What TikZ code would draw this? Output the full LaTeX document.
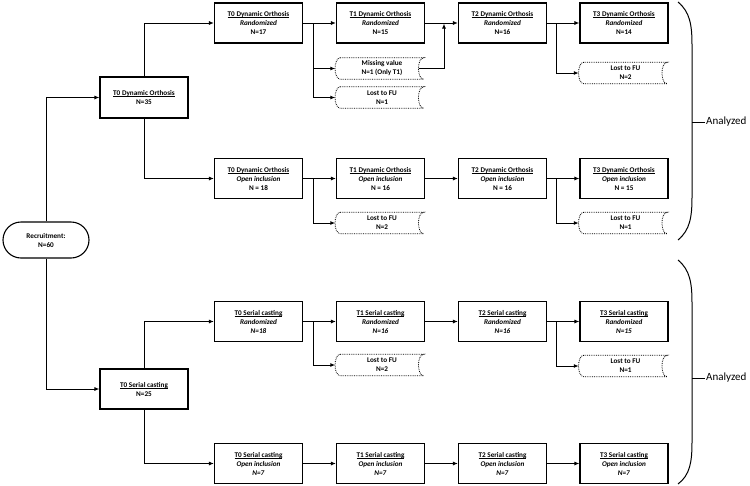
\documentclass[tikz,border=0pt]{standalone}
\usepackage{fontspec}
\setmainfont{Carlito}
\usetikzlibrary{arrows.meta,shapes.misc}
\newcommand\lostshape[1]{\draw[line width=0.8pt, densely dotted] (#1.north west) .. controls ([xshift=-7pt]#1.north west) and ([xshift=-7pt]#1.south west) .. (#1.south west) -- (#1.south east) .. controls ([xshift=-7pt]#1.south east) and ([xshift=-7pt]#1.north east) .. (#1.north east) -- cycle;}
\newcommand\uln[1]{\setbox0\hbox{#1}\rlap{\rule[-1.1pt]{\wd0}{0.5pt}}\box0}
\begin{document}
\begin{tikzpicture}[x=1pt,y=-1pt,
 box/.style={draw, line width=1.1pt, minimum width=88pt, minimum height=40pt, inner sep=1pt, align=center, font=\bfseries\fontsize{7.2}{9}\selectfont},
 lost/.style={minimum width=83pt, minimum height=21pt, inner sep=0pt, align=center, font=\bfseries\fontsize{7.2}{9}\selectfont},
 stad/.style={draw, rounded rectangle, line width=1.1pt, minimum width=88pt, minimum height=36pt, inner sep=1pt, align=center, font=\bfseries\fontsize{7.2}{9}\selectfont},
 arr/.style={line width=1pt, -{Latex[length=5pt,width=4pt]}},
 brace/.style={line width=1pt},
 lab/.style={anchor=west, inner sep=1pt, font=\fontsize{11}{13}\selectfont},
]
\useasboundingbox (0,0) rectangle (750,485);

% recruitment and T0 groups
\node[stad] (rec) at (46,240) {Recruitment:\\N=60};
\node[box, minimum height=41pt] (d0) at (144,97.5) {\uln{T0 Dynamic Orthosis}\\N=35};
\node[box] (s0) at (144,389) {\uln{T0 Serial casting}\\N=25};

% row 1: dynamic orthosis randomized
\node[box] (r1c0) at (258.5,23) {\uln{T0 Dynamic Orthosis}\\\textit{Randomized}\\N=17};
\node[box] (r1c1) at (380.5,23) {\uln{T1 Dynamic Orthosis}\\\textit{Randomized}\\N=15};
\node[box] (r1c2) at (502.5,23) {\uln{T2 Dynamic Orthosis}\\\textit{Randomized}\\N=16};
\node[box] (r1c3) at (624,23) {\uln{T3 Dynamic Orthosis}\\\textit{Randomized}\\N=14};
\node[lost] (mv) at (382,68.5) {Missing value\\N=1 (Only T1)};
\node[lost] (l11) at (382,97.5) {Lost to FU\\N=1};
\node[lost] (l13) at (625.5,73) {Lost to FU\\N=2};
\lostshape{mv}\lostshape{l11}\lostshape{l13}

% row 2: dynamic orthosis open inclusion
\node[box] (r2c0) at (258.5,178.5) {\uln{T0 Dynamic Orthosis}\\\textit{Open inclusion}\\N = 18};
\node[box] (r2c1) at (380.5,178.5) {\uln{T1 Dynamic Orthosis}\\\textit{Open inclusion}\\N = 16};
\node[box] (r2c2) at (502.5,178.5) {\uln{T2 Dynamic Orthosis}\\\textit{Open inclusion}\\N = 16};
\node[box] (r2c3) at (624,178.5) {\uln{T3 Dynamic Orthosis}\\\textit{Open inclusion}\\N = 15};
\node[lost] (l21) at (382,223) {Lost to FU\\N=2};
\node[lost] (l23) at (625.5,223) {Lost to FU\\N=1};
\lostshape{l21}\lostshape{l23}

% row 3: serial casting randomized
\node[box] (r3c0) at (258.5,321.5) {\uln{T0 Serial casting}\\\textit{Randomized}\\\textit{N=18}};
\node[box] (r3c1) at (380.5,321.5) {\uln{T1 Serial casting}\\\textit{Randomized}\\\textit{N=16}};
\node[box] (r3c2) at (502.5,321.5) {\uln{T2 Serial casting}\\\textit{Randomized}\\\textit{N=16}};
\node[box] (r3c3) at (624,321.5) {\uln{T3 Serial casting}\\\textit{Randomized}\\\textit{N=15}};
\node[lost] (l31) at (382,365) {Lost to FU\\N=2};
\node[lost] (l33) at (625.5,366) {Lost to FU\\N=1};
\lostshape{l31}\lostshape{l33}

% row 4: serial casting open inclusion
\node[box] (r4c0) at (258.5,463.5) {\uln{T0 Serial casting}\\\textit{Open inclusion}\\\textit{N=7}};
\node[box] (r4c1) at (380.5,463.5) {\uln{T1 Serial casting}\\\textit{Open inclusion}\\\textit{N=7}};
\node[box] (r4c2) at (502.5,463.5) {\uln{T2 Serial casting}\\\textit{Open inclusion}\\\textit{N=7}};
\node[box] (r4c3) at (624,463.5) {\uln{T3 Serial casting}\\\textit{Open inclusion}\\\textit{N=7}};

% branch points
\coordinate (b1) at (313,23);
\coordinate (b2) at (556,23);
\coordinate (j1) at (444,23.5);
\coordinate (b3) at (313,178.5);
\coordinate (b4) at (556,178.5);
\coordinate (b5) at (313,321.5);
\coordinate (b6) at (556,321.5);

% connectors from recruitment
\draw[arr] (rec.north) |- (d0.west);
\draw[arr] (rec.south) |- (s0.west);
\draw[arr] (d0.north) |- (r1c0.west);
\draw[arr] (d0.south) |- (r2c0.west);
\draw[arr] (s0.north) |- (r3c0.west);
\draw[arr] (s0.south) |- (r4c0.west);

% row 1
\draw[arr] (r1c0.east) -- (r1c1.west);
\draw[arr] (b1) |- ([xshift=-5pt]mv.west);
\draw[arr] (b1) |- ([xshift=-5pt]l11.west);
\draw[arr] (r1c1.east) -- (r1c2.west);
\draw[arr] ([xshift=-5pt]mv.east) -| (j1);
\draw[arr] (r1c2.east) -- (r1c3.west);
\draw[arr] (b2) |- ([xshift=-5pt]l13.west);

% row 2
\draw[arr] (r2c0.east) -- (r2c1.west);
\draw[arr] (b3) |- ([xshift=-5pt]l21.west);
\draw[arr] (r2c1.east) -- (r2c2.west);
\draw[arr] (r2c2.east) -- (r2c3.west);
\draw[arr] (b4) |- ([xshift=-5pt]l23.west);

% row 3
\draw[arr] (r3c0.east) -- (r3c1.west);
\draw[arr] (b5) |- ([xshift=-5pt]l31.west);
\draw[arr] (r3c1.east) -- (r3c2.west);
\draw[arr] (r3c2.east) -- (r3c3.west);
\draw[arr] (b6) |- ([xshift=-5pt]l33.west);

% row 4
\draw[arr] (r4c0.east) -- (r4c1.west);
\draw[arr] (r4c1.east) -- (r4c2.west);
\draw[arr] (r4c2.east) -- (r4c3.west);

% brackets
\draw[brace] (678,2) .. controls (690,12) and (692,25) .. (692,45) -- (692,197) .. controls (692,217) and (690,230) .. (678,240);
\node[lab] (an1) at (705,122) {Analyzed};
\draw[brace] (692,122) -- (an1.west);
\draw[brace] (678,260) .. controls (690,270) and (692,283) .. (692,303) -- (692,442) .. controls (692,462) and (690,475) .. (678,484);
\node[lab] (an2) at (705,378) {Analyzed};
\draw[brace] (692,378) -- (an2.west);
\end{tikzpicture}
\end{document}
